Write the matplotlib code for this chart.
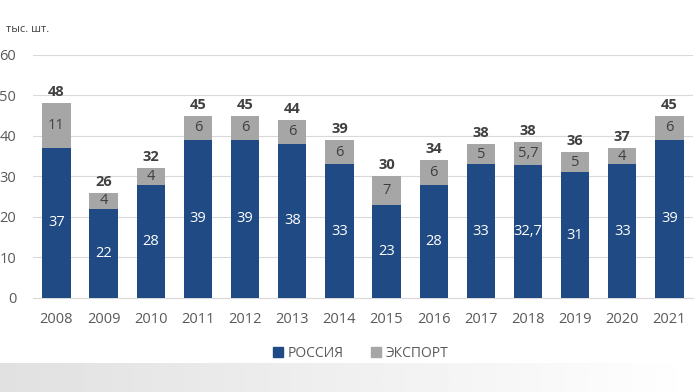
import matplotlib
matplotlib.use("Agg")
import matplotlib.pyplot as plt
import numpy as np
from matplotlib.patches import Patch

years = ["2008", "2009", "2010", "2011", "2012", "2013", "2014",
         "2015", "2016", "2017", "2018", "2019", "2020", "2021"]
russia = [37, 22, 28, 39, 39, 38, 33, 23, 28, 33, 32.7, 31, 33, 39]
export = [11, 4, 4, 6, 6, 6, 6, 7, 6, 5, 5.7, 5, 4, 6]
russia_labels = ["37", "22", "28", "39", "39", "38", "33", "23", "28", "33", "32,7", "31", "33", "39"]
export_labels = ["11", "4", "4", "6", "6", "6", "6", "7", "6", "5", "5,7", "5", "4", "6"]
totals = [48, 26, 32, 45, 45, 44, 39, 30, 34, 38, 38, 36, 37, 45]

plt.rcParams['font.family'] = ['Open Sans', 'DejaVu Sans']

c_ru = "#1F4A84"
c_ex = "#A6A6A6"

fig = plt.figure(figsize=(7, 3.92), dpi=100)

# faint decorative band at bottom
bg = fig.add_axes([0, 0, 1, 0.075], zorder=-5)
grad = np.tile(np.linspace(0.88, 1.0, 256), (8, 1))
bg.imshow(grad, cmap="gray", vmin=0, vmax=1, aspect="auto", extent=[0, 1, 0, 1])
bg.axis("off")

ax = fig.add_axes([0.047, 0.240, 0.943, 0.620])
x = np.arange(len(years))
w = 0.6
ax.bar(x, russia, w, color=c_ru, zorder=3, label="РОССИЯ")
ax.bar(x, export, w, bottom=russia, color=c_ex, zorder=3, label="ЭКСПОРТ")

for i in range(len(years)):
    ax.text(x[i], russia[i] / 2, russia_labels[i], ha="center", va="center",
            color="white", fontsize=10.5, zorder=4)
    ax.text(x[i], russia[i] + export[i] / 2, export_labels[i], ha="center", va="center",
            color="#404040", fontsize=10.5, zorder=4)
    ax.text(x[i], russia[i] + export[i] + 1.0, str(totals[i]), ha="center", va="bottom",
            color="#404040", fontsize=10.5, fontweight="bold", zorder=4)

ax.set_xlim(-0.5, len(years) - 0.5)
ax.set_ylim(0, 60)
ax.set_yticks(range(0, 61, 10))
ax.set_xticks(x)
ax.set_xticklabels(years)
ax.tick_params(axis="both", length=0, labelsize=10.5, colors="#595959")
ax.tick_params(axis="x", pad=10)
ax.tick_params(axis="y", pad=12)
ax.yaxis.grid(True, color="#D9D9D9", linewidth=0.8, zorder=0)
for s in ["top", "right", "left"]:
    ax.spines[s].set_visible(False)
ax.spines["bottom"].set_color("#D9D9D9")

fig.text(0.008, 0.925, "тыс. шт.", fontsize=8, color="#404040", ha="left", va="center")

handles = [Patch(color=c_ru, label="РОССИЯ"), Patch(color=c_ex, label="ЭКСПОРТ")]
fig.legend(handles=handles, loc="center", bbox_to_anchor=(0.515, 0.098), ncol=2,
           frameon=False, fontsize=10, handlelength=0.75, handleheight=0.75,
           handletextpad=0.3, columnspacing=2.0, labelcolor="#595959")

fig.savefig("out.png", dpi=100, facecolor="white")
